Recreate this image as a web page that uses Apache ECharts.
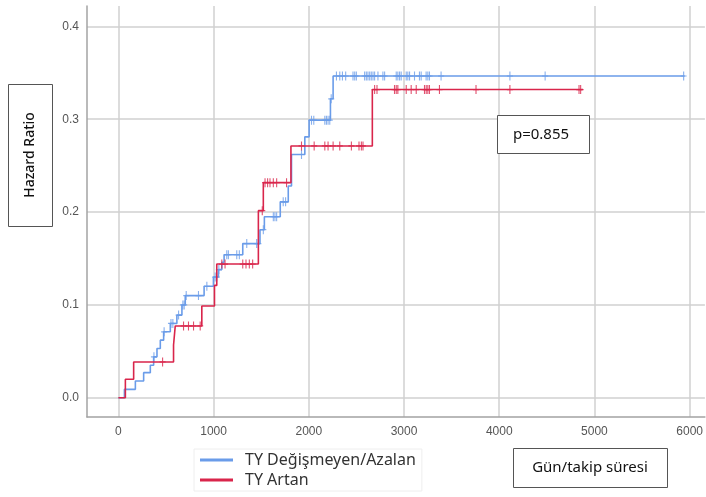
<!DOCTYPE html>
<html>
<head>
<meta charset="utf-8">
<script src="https://cdn.jsdelivr.net/npm/echarts@6/dist/echarts.min.js"></script>
<style>html,body{margin:0;padding:0;background:#fff}#c{width:706px;height:497px}</style>
</head>
<body>
<div id="c"></div>
<script>
// ---- Data ----
var seriesNames = ['TY Değişmeyen/Azalan', 'TY Artan'];
var xTicks = [0, 1000, 2000, 3000, 4000, 5000, 6000];
var yTicks = [0, 0.1, 0.2, 0.3, 0.4];

// Step times (days) and cumulative hazard after each step
var blueTimes = [0, 63, 178, 265, 335, 370, 405, 440, 475, 545, 614, 667, 702, 900, 998, 1051, 1086, 1110, 1306, 1487, 1533, 1700, 1784, 1818, 1958, 2003, 2227, 2255];
var blueHaz   = [0, 0.009, 0.018, 0.027, 0.035, 0.044, 0.053, 0.062, 0.071, 0.080, 0.089, 0.0999, 0.110, 0.120, 0.130, 0.138, 0.146, 0.154, 0.166, 0.181, 0.195, 0.211, 0.228, 0.262, 0.281, 0.299, 0.322, 0.3466];
var blueEnd = 5948;
var blueCensor = [373, 480, 552, 572, 632, 677, 691, 712, 841, 929, 1016, 1033, 1055, 1138, 1155, 1243, 1270, 1348, 1452, 1470, 1522, 1627, 1644, 1662, 1731, 1756, 1923, 2028, 2052, 2168, 2185, 2202, 2220, 2235, 2290, 2325, 2353, 2387, 2464, 2482, 2499, 2586, 2604, 2621, 2639, 2656, 2674, 2691, 2726, 2778, 2796, 2918, 2935, 2953, 2970, 3023, 3040, 3058, 3110, 3162, 3180, 3232, 3250, 3267, 3389, 4112, 4482, 5937];

var redTimes = [0, 73, 160, 579, 597, 876, 1009, 1033, 1470, 1522, 1812, 2667];
var redHaz   = [0, 0.0198, 0.0385, 0.0568, 0.0773, 0.0988, 0.121, 0.144, 0.2015, 0.2317, 0.2712, 0.332];
var redEnd = 4880;
var redCensor = [464, 684, 736, 789, 859, 1086, 1120, 1306, 1340, 1375, 1410, 1511, 1540, 1567, 1592, 1627, 1662, 1766, 1923, 2056, 2168, 2202, 2255, 2325, 2447, 2527, 2552, 2569, 2691, 2716, 2900, 2918, 2935, 3023, 3075, 3128, 3215, 3233, 3250, 3267, 3372, 3756, 4112, 4838, 4855];

var pText = 'p=0.855';
var yName = 'Hazard Ratio';
var xName = 'Gün/takip süresi';

// ---- Build ----
function stepData(times, haz, end) {
  var d = times.map(function (t, i) { return [t, haz[i]]; });
  d.push([end, haz[haz.length - 1]]);
  return d;
}
function levelAt(times, haz, t) {
  var h = 0;
  for (var i = 0; i < times.length; i++) { if (times[i] <= t) h = haz[i]; }
  return h;
}
function censorData(times, haz, cens) {
  return cens.map(function (t) { return [t, levelAt(times, haz, t)]; });
}

var BLUE = '#6a9ce9';
var RED = '#d9254b';
var plus = 'path://M-0.55,-4.5L0.55,-4.5L0.55,4.5L-0.55,4.5Z M-3,-0.6L3,-0.6L3,0.6L-3,0.6Z';

var chart = echarts.init(document.getElementById('c'), null, {renderer: 'canvas'});
chart.setOption({
  animation: false,
  backgroundColor: '#ffffff',
  grid: {left: 87, right: 0, top: 6, bottom: 80},
  xAxis: {
    type: 'value', min: -330, max: 6160,
    axisLine: {show: true, onZero: false, lineStyle: {color: '#a3a3a3', width: 1.5}},
    axisTick: {show: false, customValues: xTicks},
    axisLabel: {customValues: xTicks, color: '#555', fontSize: 12, fontFamily: 'Liberation Sans', margin: 9,
      formatter: function (v) { return String(v); }},
    splitLine: {show: true, lineStyle: {color: '#d0d0d0', width: 1.5}}
  },
  yAxis: {
    type: 'value', min: -0.0208, max: 0.422,
    axisLine: {show: true, onZero: false, lineStyle: {color: '#a3a3a3', width: 1.5}},
    axisTick: {show: false, customValues: yTicks},
    axisLabel: {customValues: yTicks, color: '#555', fontSize: 12, fontFamily: 'Liberation Sans', margin: 8,
      formatter: function (v) { return v.toFixed(1); }},
    splitLine: {show: true, lineStyle: {color: '#d0d0d0', width: 1.5}}
  },
  legend: {
    orient: 'vertical', left: 194, top: 449, itemGap: 4,
    itemWidth: 33, itemHeight: 3,
    padding: [3, 6, 3, 6],
    borderColor: '#eeeeee', borderWidth: 1,
    textStyle: {fontFamily: 'Noto Sans', fontSize: 16, color: '#333', padding: [0, 0, 0, 7]},
    data: [
      {name: seriesNames[0], icon: 'rect', itemStyle: {color: BLUE}},
      {name: seriesNames[1], icon: 'rect', itemStyle: {color: RED}}
    ]
  },
  series: [
    {name: seriesNames[0], type: 'line', step: 'end', showSymbol: false, data: stepData(blueTimes, blueHaz, blueEnd),
      lineStyle: {color: BLUE, width: 1.6}, itemStyle: {color: BLUE}, z: 3},
    {name: seriesNames[1], type: 'line', step: 'end', showSymbol: false, data: stepData(redTimes, redHaz, redEnd),
      lineStyle: {color: RED, width: 1.6}, itemStyle: {color: RED}, z: 4},
    {name: 'bc', type: 'scatter', data: censorData(blueTimes, blueHaz, blueCensor), symbol: plus, symbolSize: [6, 9],
      itemStyle: {color: BLUE}, z: 3, silent: true},
    {name: 'rc', type: 'scatter', data: censorData(redTimes, redHaz, redCensor), symbol: plus, symbolSize: [6, 9],
      itemStyle: {color: RED}, z: 4, silent: true}
  ],
  graphic: [
    {type: 'rect', shape: {x: 8.5, y: 84.5, width: 44, height: 142}, style: {fill: '#fff', stroke: '#555', lineWidth: 1}},
    {type: 'text', x: 30, y: 155, rotation: Math.PI / 2,
      style: {text: yName, fontFamily: 'Noto Sans', fontSize: 14, fontWeight: 500, fill: '#111', align: 'center', verticalAlign: 'middle'}},
    {type: 'rect', shape: {x: 497.5, y: 115.5, width: 92, height: 38}, style: {fill: '#fff', stroke: '#555', lineWidth: 1}, z: 10},
    {type: 'text', x: 541, y: 135, z: 11,
      style: {text: pText, fontFamily: 'Noto Sans', fontSize: 15, fill: '#111', align: 'center', verticalAlign: 'middle'}},
    {type: 'rect', shape: {x: 513.5, y: 448.5, width: 154, height: 39}, style: {fill: '#fff', stroke: '#555', lineWidth: 1}},
    {type: 'text', x: 590, y: 468,
      style: {text: xName, fontFamily: 'Noto Sans', fontSize: 15, fill: '#111', align: 'center', verticalAlign: 'middle'}}
  ]
});
</script>
</body>
</html>
